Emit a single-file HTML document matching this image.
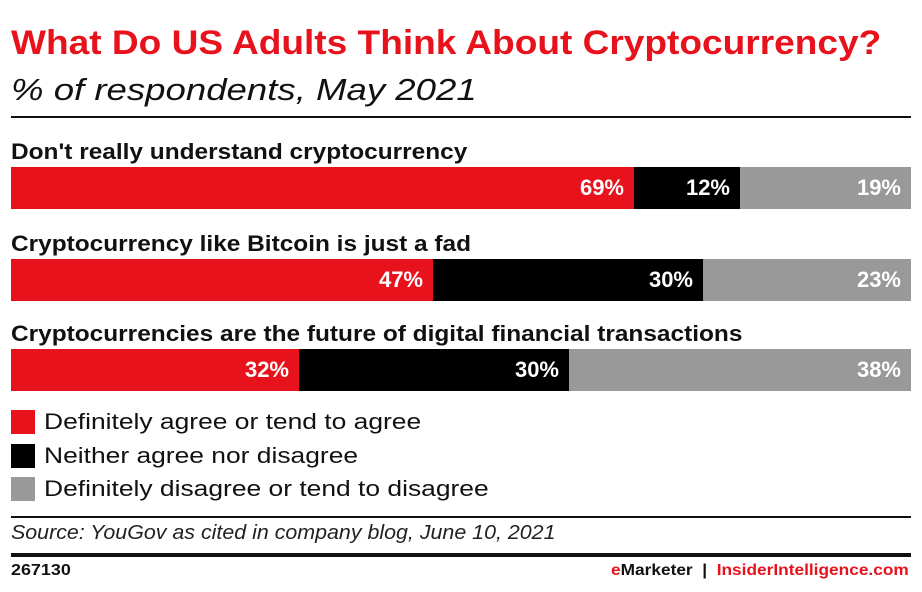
<!DOCTYPE html>
<html><head><meta charset="utf-8"><style>
body{margin:0;width:922px;height:592px;background:#fff;font-family:"Liberation Sans",sans-serif;position:relative;overflow:hidden;color:#111}
.a{position:absolute;white-space:nowrap;transform-origin:0 0}
.bar{position:absolute;height:42px}
.bar div{position:absolute;top:0;height:42px;color:#fff;font-weight:bold;font-size:22px;line-height:42px;text-align:right;box-sizing:border-box;padding-right:10px}
.r{background:#e8121d}.k{background:#000}.g{background:#999}
.lab{font-weight:bold;font-size:22px;transform:scaleX(1.11)}
.sq{position:absolute;left:11px;width:24px;height:24px}
.lg{font-size:22px;left:44px;transform:scaleX(1.2)}
</style></head><body>
<div class="a" style="left:11px;top:24px;font-size:34px;font-weight:bold;color:#e8121d;transform:scaleX(1.09)">What Do US Adults Think About Cryptocurrency?</div>
<div class="a" style="left:11px;top:72px;font-size:31px;font-style:italic;transform:scaleX(1.18)">% of respondents, May 2021</div>
<div class="a" style="left:11px;top:116px;width:900px;height:2px;background:#111"></div>

<div class="a lab" style="left:11px;top:139px">Don't really understand cryptocurrency</div>
<div class="bar" style="left:11px;top:167px;width:900px">
<div class="r" style="left:0;width:623px">69%</div><div class="k" style="left:623px;width:106px">12%</div><div class="g" style="left:729px;width:171px">19%</div></div>

<div class="a lab" style="left:11px;top:231px">Cryptocurrency like Bitcoin is just a fad</div>
<div class="bar" style="left:11px;top:259px;width:900px">
<div class="r" style="left:0;width:422px">47%</div><div class="k" style="left:422px;width:270px">30%</div><div class="g" style="left:692px;width:208px">23%</div></div>

<div class="a lab" style="left:11px;top:321px">Cryptocurrencies are the future of digital financial transactions</div>
<div class="bar" style="left:11px;top:349px;width:900px">
<div class="r" style="left:0;width:288px">32%</div><div class="k" style="left:288px;width:270px">30%</div><div class="g" style="left:558px;width:342px">38%</div></div>

<div class="sq r" style="top:410px"></div><div class="a lg" style="top:409px">Definitely agree or tend to agree</div>
<div class="sq k" style="top:444px"></div><div class="a lg" style="top:443px">Neither agree nor disagree</div>
<div class="sq g" style="top:477px"></div><div class="a lg" style="top:476px">Definitely disagree or tend to disagree</div>

<div class="a" style="left:11px;top:516px;width:900px;height:2px;background:#111"></div>
<div class="a" style="left:11px;top:522px;font-size:20px;font-style:italic;color:#222;transform:scaleX(1.07)">Source: YouGov as cited in company blog, June 10, 2021</div>
<div class="a" style="left:11px;top:553px;width:900px;height:4px;background:#111"></div>
<div class="a" style="left:11px;top:562px;font-size:16px;font-weight:bold;transform:scaleX(1.12)">267130</div>
<div class="a" style="left:611px;top:562px;font-size:16px;font-weight:bold;transform:scaleX(1.08)"><span style="color:#e8121d">e</span>Marketer &nbsp;|&nbsp; <span style="color:#e8121d">InsiderIntelligence.com</span></div>
</body></html>
